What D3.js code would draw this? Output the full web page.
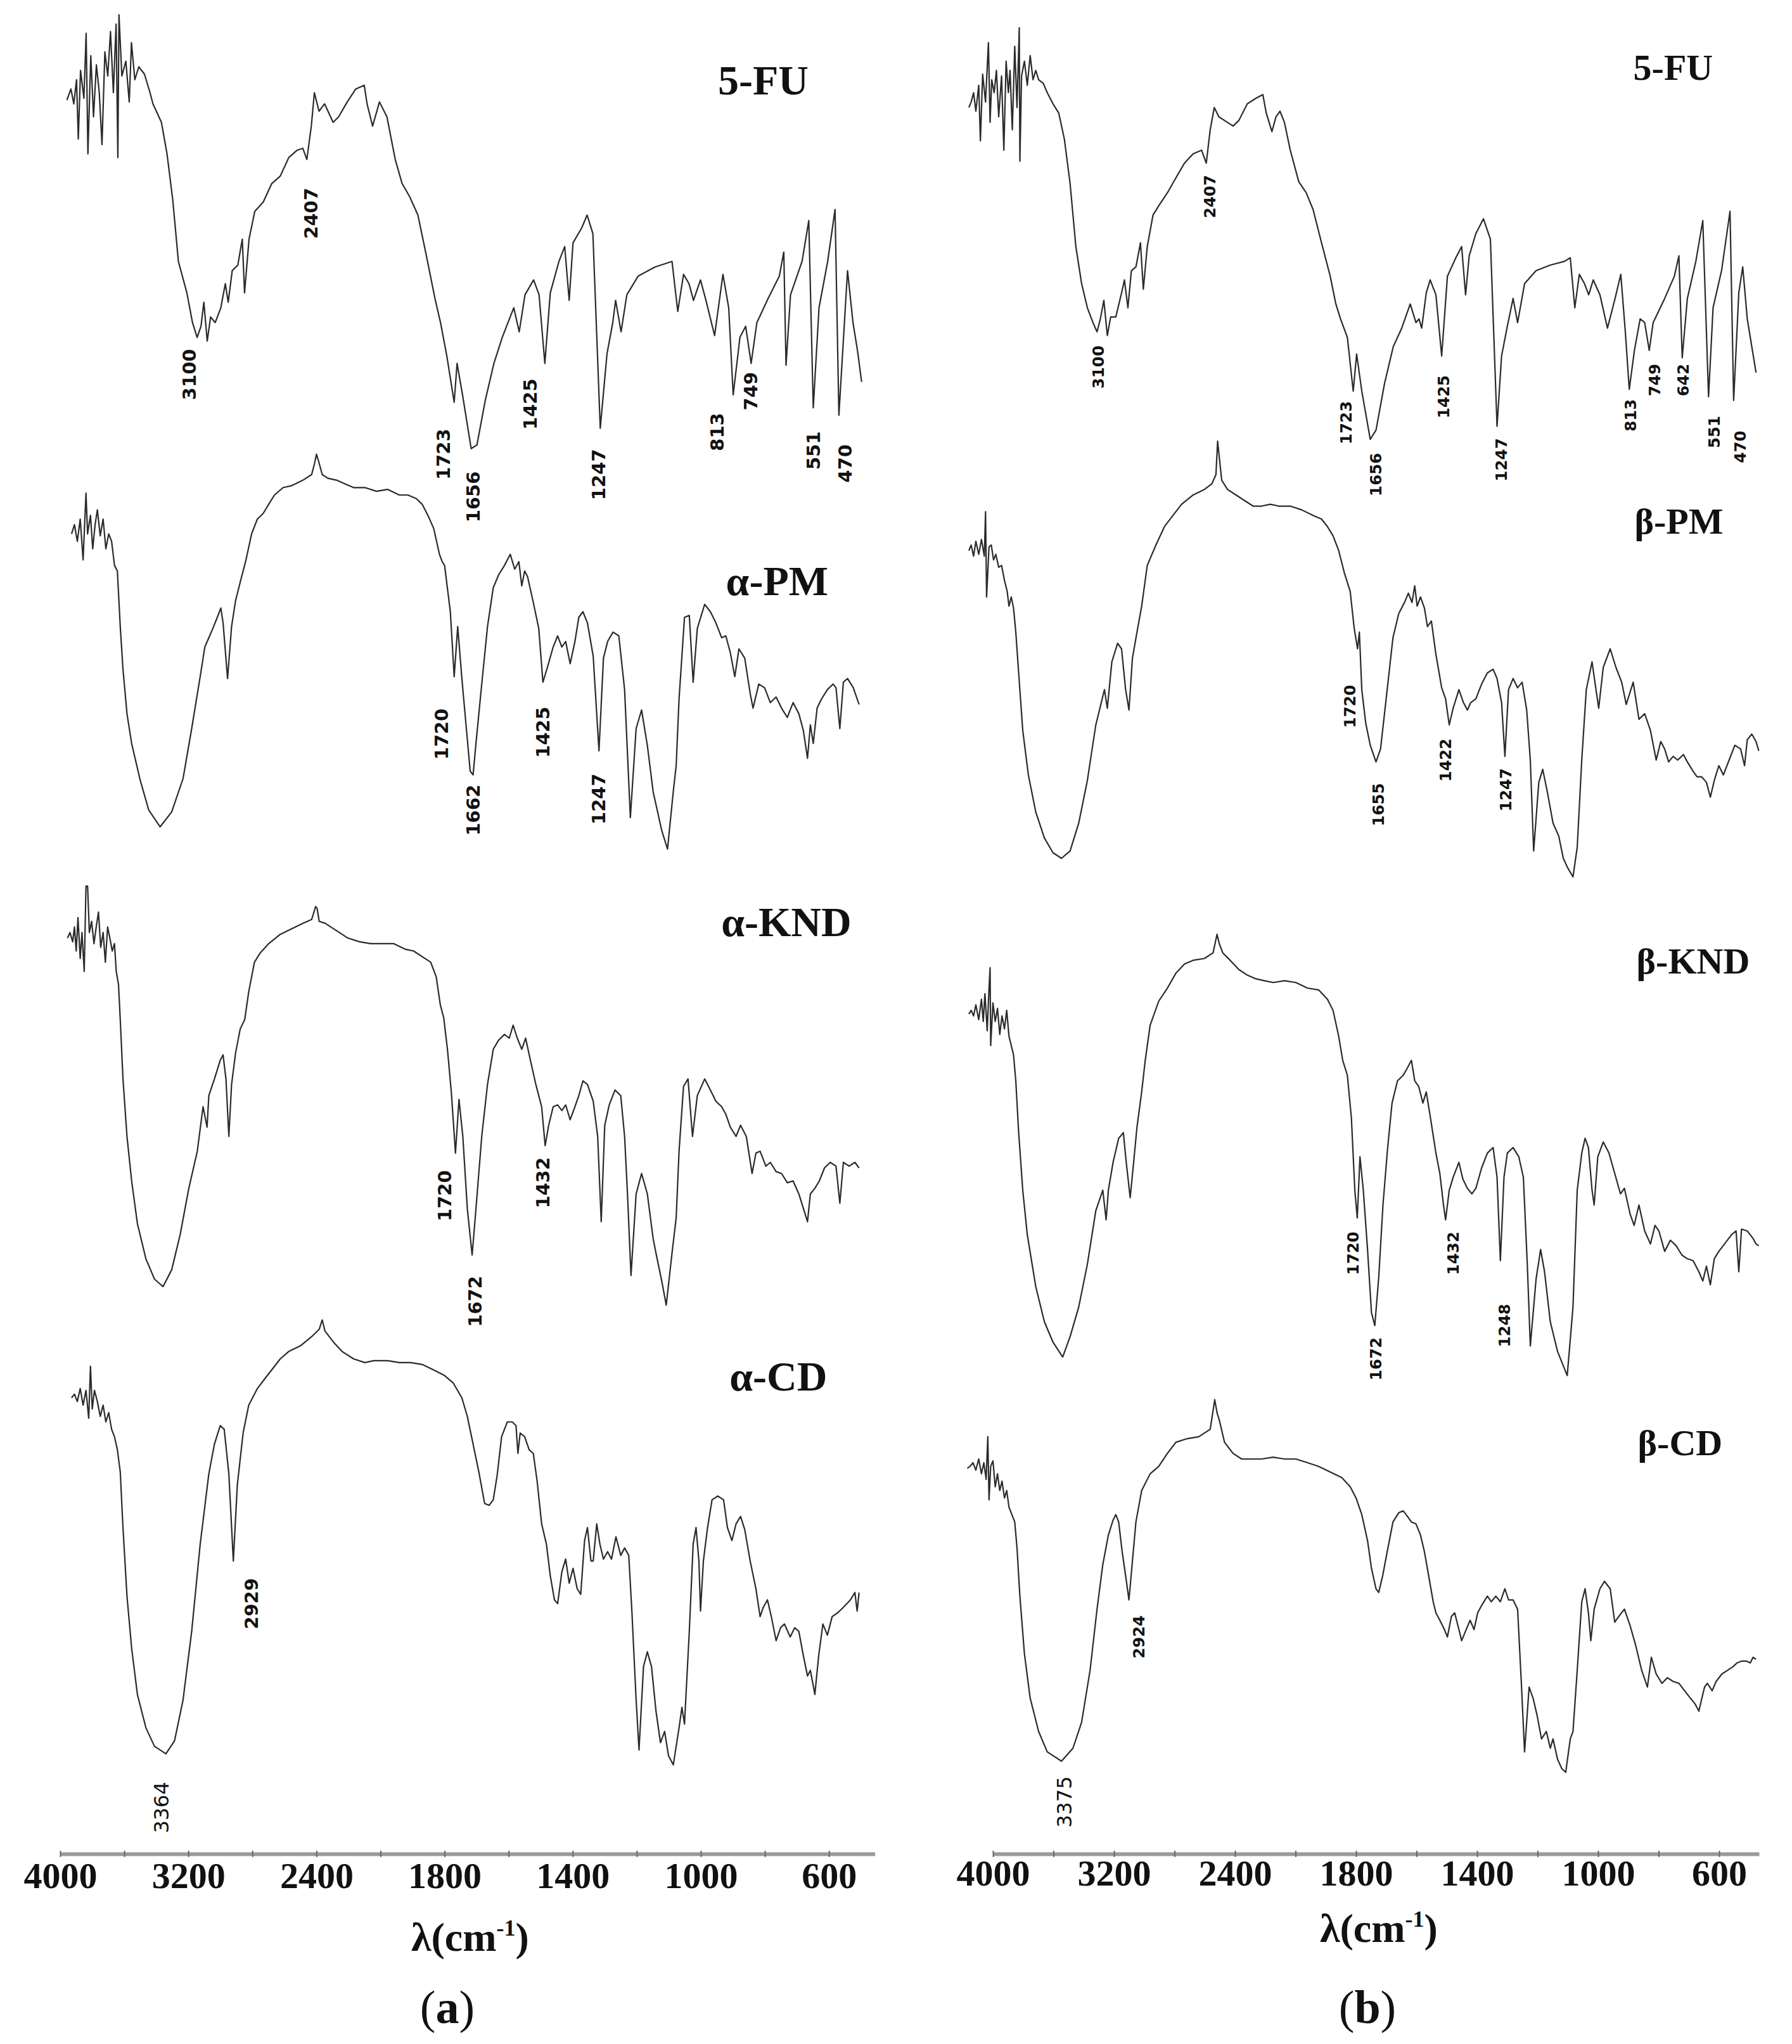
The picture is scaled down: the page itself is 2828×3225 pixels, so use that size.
<!DOCTYPE html>
<html>
<head>
<meta charset="utf-8">
<script src="https://cdn.jsdelivr.net/npm/d3@7"></script>
<style>
  body { margin: 0; background: #fff; }
  svg { display: block; }
</style>
</head>
<body>
<svg id="chart" width="2828" height="3225"></svg>
<script>
// tick labels of the wavenumber axis (equally spaced in the figure)
const majorTicks = [4000, 3200, 2400, 1800, 1400, 1000, 600];
const minorTicks = [3600, 2800, 2100, 1600, 1200, 800];

// [wavenumber, stacked transmittance (0-100, arbitrary)]
const fuA = [[3958,94.6],[3933,95.2],[3915,94.4],[3898,95.7],[3887,92.5],[3873,96.2],[3852,94.7],[3838,98.2],[3827,91.7],[3809,97.0],[3792,93.7],[3774,96.5],[3756,95.0],[3739,92.2],[3721,97.2],[3703,95.9],[3686,98.3],[3668,95.0],[3651,98.7],[3640,91.5],[3633,99.2],[3615,95.9],[3590,96.7],[3569,94.5],[3555,97.7],[3534,95.7],[3509,96.4],[3474,96.0],[3439,95.0],[3421,94.4],
  [3368,93.4],[3333,91.7],[3297,89.2],[3262,85.9],[3209,84.2],[3174,82.6],[3145,81.8],[3121,82.4],[3103,83.7],[3082,81.6],[3061,82.9],[3032,82.6],[2997,83.4],[2969,84.7],[2951,83.7],[2926,85.4],[2891,85.7],[2863,87.1],[2849,84.2],[2821,87.1],[2785,88.6],[2732,89.1],[2679,90.1],[2626,90.5],[2573,91.5],[2520,91.9],[2485,92.0],[2460,91.4],[2432,93.2],[2413,95.0],
  [2388,94.0],[2362,94.4],[2322,93.4],[2296,93.7],[2256,94.5],[2216,95.2],[2176,95.4],[2163,94.4],[2137,93.2],[2105,94.5],[2070,93.7],[2031,91.4],[1999,90.1],[1964,89.4],[1925,88.4],[1885,86.2],[1845,83.9],[1819,82.6],[1793,80.8],[1770,78.3],[1761,80.4],[1743,78.6],[1717,75.8],[1699,76.0],[1673,78.4],[1646,80.4],[1620,81.8],[1602,82.6],[1584,83.4],[1567,82.1],[1549,84.1],[1522,84.9],[1505,84.1],[1487,80.4],[1470,84.2],[1443,85.9],[1425,86.7],[1411,83.8],[1399,86.9],[1372,87.7],[1355,88.4],[1337,87.4],[1314,76.9],[1293,80.9],[1275,82.6],[1266,83.8],[1249,82.1],[1231,84.1],[1196,85.1],[1143,85.6],[1090,85.9],[1072,83.2],[1054,85.2],[1037,84.7],[1023,83.8],[1001,84.9],[984,83.8],[957,81.9],[931,85.2],[913,83.4],[899,78.7],[878,81.8],[860,82.4],[843,80.4],[825,82.6],[790,83.9],[755,85.1],[741,86.4],[734,80.3],[720,84.1],[684,85.9],[663,88.1],[649,78.0],[631,83.4],[604,85.9],[581,88.7],[569,77.6],[542,85.4],[525,82.6],[511,81.1],[498,79.4]];

const pmA = [[3929,71.2],[3911,71.7],[3893,70.8],[3875,72.0],[3857,69.8],[3839,73.4],[3829,71.2],[3811,72.2],[3797,70.4],[3782,71.7],[3768,72.5],[3750,71.1],[3732,72.0],[3715,70.4],[3697,71.2],[3679,70.8],[3661,69.5],[3643,69.2],[3625,66.2],[3608,63.9],[3583,61.5],[3554,59.9],[3500,57.9],[3447,56.3],[3376,55.4],[3304,56.2],[3233,58.0],[3179,60.7],[3126,63.5],[3097,65.1],[3072,65.6],[3047,66.1],[3019,66.7],[2997,67.2],[2983,66.4],[2955,63.4],[2930,66.2],[2905,67.6],[2876,68.6],[2840,69.8],[2805,71.2],[2769,72.0],[2733,72.3],[2698,72.8],[2662,73.3],[2608,73.7],[2555,73.8],[2484,74.1],[2430,74.4],[2412,75.0],[2400,75.5],[2387,75.0],[2373,74.4],[2346,74.2],[2306,74.1],[2266,73.9],[2226,73.7],[2173,73.7],[2119,73.5],[2066,73.6],[2012,73.3],[1972,73.3],[1932,73.1],[1905,72.8],[1878,72.2],[1851,71.5],[1824,70.1],[1811,69.7],[1800,69.5],[1782,67.0],[1770,63.5],[1759,66.2],[1746,63.4],[1732,60.7],[1720,58.4],[1711,58.2],[1702,59.9],[1684,63.1],[1666,66.2],[1648,68.3],[1631,69.0],[1613,69.5],[1595,70.1],[1581,69.3],[1568,69.7],[1559,68.4],[1550,69.2],[1541,68.9],[1523,67.5],[1506,66.1],[1493,63.2],[1479,64.0],[1461,65.1],[1447,65.7],[1434,65.1],[1422,65.4],[1408,64.2],[1393,65.4],[1381,66.7],[1368,67.0],[1354,66.4],[1336,64.6],[1318,59.5],[1304,64.5],[1291,65.4],[1274,65.9],[1256,65.7],[1238,62.8],[1220,55.9],[1202,60.7],[1185,61.7],[1167,59.8],[1149,57.3],[1140,56.6],[1122,55.2],[1104,54.2],[1086,57.3],[1077,58.7],[1068,62.3],[1051,66.7],[1036,66.8],[1024,63.2],[1011,66.1],[988,67.4],[970,67.0],[953,66.4],[935,65.6],[922,65.7],[908,64.8],[894,63.5],[881,65.0],[863,64.5],[846,62.6],[837,61.8],[819,63.1],[801,62.9],[783,62.1],[765,62.4],[748,61.8],[730,61.3],[712,62.1],[694,61.5],[680,60.6],[667,59.1],[658,60.9],[649,59.9],[637,61.8],[623,62.3],[605,62.8],[587,63.1],[578,62.9],[566,60.7],[555,63.2],[542,63.4],[524,62.9],[506,62.0]];

const kndA = [[3954,49.4],[3939,49.7],[3922,49.2],[3911,50.0],[3900,48.7],[3889,50.5],[3875,48.3],[3864,49.7],[3850,47.6],[3839,52.2],[3829,52.2],[3818,49.7],[3804,50.3],[3789,49.1],[3775,50.0],[3761,50.8],[3747,48.9],[3732,49.7],[3718,48.1],[3704,50.0],[3690,49.4],[3675,48.7],[3661,49.1],[3650,47.6],[3636,46.9],[3625,45.0],[3608,41.8],[3583,38.7],[3554,36.3],[3518,34.0],[3465,32.1],[3411,31.0],[3358,30.6],[3304,31.5],[3251,33.4],[3197,35.9],[3144,37.9],[3108,40.3],[3083,39.2],[3072,40.9],[3037,41.8],[3001,42.8],[2983,43.1],[2965,41.8],[2947,38.7],[2930,41.5],[2905,43.2],[2876,44.5],[2848,45.0],[2823,46.5],[2787,48.1],[2751,48.6],[2698,49.1],[2626,49.6],[2555,49.9],[2484,50.2],[2430,50.4],[2405,51.1],[2397,51.0],[2387,50.3],[2360,50.2],[2306,49.8],[2253,49.4],[2199,49.2],[2146,49.1],[2092,49.1],[2039,49.1],[1985,48.8],[1945,48.7],[1905,48.4],[1865,48.1],[1839,47.3],[1820,45.8],[1804,45.1],[1791,43.4],[1779,41.1],[1766,37.8],[1755,40.7],[1743,38.7],[1729,34.8],[1714,32.3],[1702,34.8],[1684,38.7],[1666,41.5],[1648,43.4],[1631,43.9],[1613,44.2],[1598,44.0],[1586,44.7],[1573,44.0],[1559,43.4],[1547,44.0],[1532,42.8],[1515,41.5],[1497,40.3],[1486,38.2],[1475,39.3],[1461,40.3],[1447,40.4],[1434,40.1],[1422,40.4],[1408,39.6],[1393,40.3],[1381,40.9],[1368,41.7],[1354,41.5],[1336,40.6],[1322,38.7],[1311,34.1],[1300,39.3],[1286,40.4],[1268,41.2],[1250,40.9],[1238,38.7],[1229,35.6],[1218,31.2],[1202,35.6],[1185,36.7],[1167,35.6],[1149,33.2],[1140,32.4],[1122,30.9],[1108,29.6],[1090,32.4],[1077,34.3],[1068,37.9],[1054,41.4],[1040,41.8],[1026,38.7],[1011,40.9],[988,41.8],[970,41.2],[953,40.6],[935,40.3],[922,39.9],[908,39.2],[890,38.7],[876,39.3],[858,38.7],[840,36.7],[828,37.8],[815,37.9],[797,37.1],[783,37.3],[765,36.8],[748,36.7],[730,36.2],[712,36.3],[694,35.6],[676,34.6],[667,34.1],[658,35.6],[644,35.9],[630,36.3],[614,37.0],[596,37.3],[578,37.1],[566,35.1],[555,37.3],[537,37.1],[519,37.3],[506,37.0]];

const cdA = [[3929,24.6],[3911,24.8],[3893,24.4],[3875,25.1],[3857,24.2],[3839,25.0],[3822,23.5],[3811,26.3],[3800,24.0],[3786,25.0],[3768,24.4],[3750,23.6],[3732,24.2],[3715,23.3],[3697,23.8],[3679,22.9],[3661,22.5],[3643,21.8],[3625,20.6],[3608,17.6],[3583,13.9],[3554,11.1],[3518,8.6],[3465,6.8],[3411,5.8],[3340,5.4],[3286,6.1],[3233,8.3],[3179,12.0],[3126,16.7],[3072,20.5],[3037,22.1],[3001,23.1],[2976,22.9],[2947,20.5],[2919,15.8],[2894,19.9],[2858,22.7],[2823,24.2],[2769,25.1],[2716,25.7],[2662,26.3],[2626,26.7],[2573,27.1],[2501,27.4],[2430,27.9],[2387,28.3],[2373,28.8],[2360,28.2],[2320,27.6],[2280,27.1],[2226,26.7],[2173,26.5],[2132,26.6],[2066,26.6],[2012,26.5],[1959,26.5],[1905,26.4],[1851,26.1],[1800,25.8],[1773,25.4],[1746,24.6],[1729,23.6],[1711,22.1],[1693,20.6],[1675,18.9],[1661,18.8],[1648,19.1],[1636,20.4],[1622,22.5],[1604,23.3],[1589,23.3],[1577,23.1],[1571,21.6],[1564,22.7],[1550,22.5],[1536,21.8],[1523,21.6],[1511,20.1],[1497,17.8],[1482,16.7],[1470,15.0],[1457,13.7],[1447,13.5],[1434,15.2],[1422,15.9],[1411,14.6],[1399,15.4],[1386,14.3],[1375,14.0],[1363,16.9],[1354,17.6],[1343,15.8],[1336,15.8],[1325,17.8],[1315,16.7],[1304,15.9],[1291,16.3],[1279,15.9],[1265,17.1],[1250,16.1],[1238,16.5],[1225,16.1],[1215,13.0],[1202,8.3],[1193,5.6],[1179,10.1],[1167,10.9],[1154,10.1],[1140,7.7],[1126,6.0],[1113,6.6],[1101,5.3],[1086,4.8],[1068,6.8],[1059,7.9],[1051,7.0],[1036,12.0],[1024,16.7],[1015,17.6],[1006,15.8],[1001,13.1],[992,15.8],[979,17.6],[965,19.1],[947,19.3],[929,19.1],[917,17.6],[903,16.9],[890,17.8],[876,18.2],[863,17.5],[846,15.8],[828,14.3],[815,12.8],[805,13.3],[792,13.7],[780,12.8],[765,11.5],[751,12.2],[739,12.4],[721,11.7],[707,12.2],[694,12.0],[680,10.7],[667,9.6],[658,9.9],[644,8.6],[632,10.7],[619,12.4],[605,11.8],[590,12.8],[573,13.0],[555,13.3],[533,13.7],[519,14.1],[512,13.1],[506,14.1]];

const fuB = [[4159,94.2],[4144,94.5],[4128,95.0],[4113,94.0],[4094,95.4],[4083,92.4],[4068,96.0],[4049,94.5],[4030,97.7],[4019,93.4],[4008,95.7],[3992,95.0],[3977,96.2],[3962,93.7],[3943,95.9],[3928,91.9],[3913,96.7],[3898,95.0],[3887,96.2],[3872,93.0],[3856,97.5],[3841,94.2],[3826,98.5],[3822,91.3],[3811,95.9],[3792,96.7],[3773,95.4],[3754,97.0],[3735,95.7],[3717,96.2],[3698,95.7],[3667,95.5],[3641,95.0],[3603,94.4],[3565,93.9],[3528,92.5],[3490,90.1],[3452,86.7],[3414,84.7],[3376,83.4],[3339,82.6],[3312,82.1],[3290,82.8],[3267,83.8],[3244,81.9],[3222,82.9],[3188,82.9],[3150,84.2],[3131,84.9],[3108,83.4],[3085,85.4],[3055,85.6],[3025,86.9],[3006,84.4],[2980,86.7],[2942,88.4],[2904,88.9],[2847,89.6],[2791,90.4],[2734,91.2],[2677,91.7],[2621,91.9],[2590,91.2],[2564,93.0],[2537,94.2],[2507,93.7],[2469,93.5],[2413,93.2],[2381,93.5],[2339,94.4],[2296,94.7],[2262,94.9],[2245,93.9],[2217,92.9],[2197,93.7],[2177,94.0],[2155,93.4],[2126,91.9],[2084,90.2],[2047,89.6],[2013,88.7],[1971,86.9],[1928,85.1],[1900,83.6],[1877,82.8],[1843,81.8],[1814,78.9],[1798,80.9],[1781,78.9],[1753,76.3],[1734,76.8],[1706,79.3],[1677,81.3],[1649,82.3],[1621,83.6],[1602,82.6],[1592,82.8],[1583,82.3],[1568,84.2],[1555,84.9],[1536,84.1],[1517,80.8],[1498,85.1],[1470,86.1],[1451,86.7],[1438,84.1],[1426,86.2],[1404,87.4],[1379,88.2],[1356,87.1],[1334,77.0],[1319,80.8],[1300,82.4],[1281,83.9],[1266,82.6],[1243,84.7],[1205,85.4],[1158,85.7],[1111,85.9],[1092,86.1],[1077,83.4],[1062,85.2],[1045,84.7],[1031,84.1],[1016,84.9],[994,84.1],[969,82.3],[944,83.9],[925,85.2],[910,82.1],[897,79.0],[880,81.1],[861,82.8],[846,82.6],[831,81.1],[818,82.6],[780,83.9],[748,85.1],[733,86.2],[722,80.7],[705,83.9],[677,85.9],[654,88.1],[635,78.6],[620,83.4],[592,85.4],[564,88.6],[552,78.4],[535,84.2],[522,85.6],[507,82.8],[492,81.3],[478,79.9]];

const pmB = [[4159,70.3],[4144,70.6],[4128,70.0],[4113,70.8],[4094,70.1],[4076,70.9],[4057,70.0],[4049,72.4],[4042,67.8],[4026,70.5],[4011,70.6],[3996,69.8],[3981,70.1],[3962,69.4],[3943,69.5],[3924,68.7],[3906,68.1],[3894,67.3],[3879,67.8],[3864,67.2],[3849,65.9],[3830,63.7],[3803,60.6],[3766,58.2],[3717,56.2],[3660,54.8],[3603,54.0],[3547,53.7],[3490,54.1],[3433,55.6],[3376,57.9],[3320,60.9],[3263,62.8],[3244,61.8],[3214,64.3],[3176,65.3],[3150,65.0],[3123,62.8],[3101,61.7],[3078,64.5],[3048,65.9],[3017,67.3],[2980,69.5],[2923,70.6],[2866,71.6],[2810,72.2],[2753,72.8],[2677,73.3],[2602,73.6],[2553,73.9],[2526,74.4],[2515,76.2],[2488,74.1],[2450,73.6],[2395,73.3],[2353,73.0],[2310,72.7],[2268,72.7],[2225,72.8],[2183,72.7],[2126,72.7],[2070,72.5],[2013,72.2],[1971,72.0],[1942,71.6],[1914,71.1],[1886,70.3],[1858,69.1],[1829,68.1],[1809,66.1],[1795,65.0],[1789,65.9],[1781,62.8],[1768,61.0],[1753,59.8],[1734,58.9],[1719,59.6],[1706,61.5],[1693,63.4],[1678,65.6],[1659,66.9],[1640,67.5],[1627,68.0],[1615,67.5],[1606,68.4],[1598,67.3],[1587,67.8],[1574,67.2],[1564,66.2],[1551,66.5],[1536,64.7],[1517,62.9],[1504,62.3],[1492,60.9],[1479,61.8],[1460,62.8],[1445,62.1],[1432,61.7],[1421,62.1],[1404,62.3],[1385,63.1],[1366,63.7],[1347,63.9],[1334,63.4],[1319,62.1],[1308,59.2],[1296,62.8],[1281,63.4],[1266,62.9],[1251,63.2],[1236,61.7],[1224,59.0],[1213,54.1],[1196,57.8],[1183,58.5],[1168,57.3],[1149,55.6],[1130,54.9],[1115,53.7],[1101,53.2],[1083,52.7],[1069,54.3],[1054,59.0],[1039,62.8],[1020,64.3],[1007,62.8],[998,61.8],[983,64.0],[960,65.0],[941,64.0],[922,63.2],[907,62.0],[884,63.2],[865,61.2],[846,61.5],[827,60.6],[808,59.0],[793,60.0],[780,59.6],[767,58.9],[752,59.2],[737,59.0],[718,59.3],[705,58.9],[686,58.4],[673,58.1],[658,58.1],[642,57.8],[629,57.0],[616,57.9],[601,58.7],[586,58.2],[567,59.0],[548,59.8],[529,59.6],[516,58.7],[507,60.1],[492,60.4],[478,60.0],[469,59.5]];

const kndB = [[4159,45.3],[4144,45.5],[4128,45.2],[4113,45.8],[4094,45.0],[4076,46.1],[4064,44.9],[4053,46.4],[4038,44.4],[4026,46.7],[4019,47.8],[4015,43.6],[4000,45.9],[3985,44.9],[3970,45.6],[3955,44.2],[3940,45.2],[3924,44.5],[3909,45.5],[3894,44.1],[3879,43.6],[3864,43.1],[3849,41.7],[3830,38.9],[3803,35.8],[3773,33.4],[3717,30.6],[3660,28.7],[3603,27.6],[3539,26.8],[3490,27.9],[3433,29.5],[3376,31.8],[3320,34.7],[3274,35.8],[3252,34.2],[3237,35.8],[3206,37.3],[3169,38.6],[3138,38.9],[3119,37.3],[3093,35.4],[3070,37.3],[3048,39.2],[3017,41.1],[2995,42.7],[2961,44.7],[2904,46.0],[2847,46.7],[2791,47.5],[2734,48.0],[2677,48.2],[2602,48.3],[2545,48.6],[2519,49.6],[2504,49.1],[2481,48.6],[2432,48.2],[2381,47.7],[2339,47.4],[2296,47.2],[2254,47.1],[2211,47.0],[2155,47.1],[2098,47.0],[2041,46.7],[1985,46.6],[1942,46.1],[1914,45.5],[1886,44.1],[1866,42.8],[1843,42.0],[1823,39.7],[1806,35.8],[1796,34.3],[1787,37.6],[1776,35.8],[1762,32.6],[1749,29.2],[1738,28.5],[1725,31.1],[1711,35.0],[1696,38.0],[1681,40.5],[1663,41.7],[1644,42.0],[1630,42.4],[1617,42.8],[1606,41.7],[1593,41.4],[1579,40.5],[1568,41.1],[1555,39.8],[1536,37.8],[1523,36.7],[1511,35.0],[1504,34.2],[1492,35.8],[1479,36.5],[1460,37.3],[1447,36.4],[1432,35.9],[1417,35.6],[1404,35.9],[1385,37.0],[1366,37.8],[1347,38.1],[1334,36.5],[1323,32.0],[1311,36.5],[1300,37.8],[1281,38.1],[1262,37.6],[1247,36.5],[1234,31.8],[1224,27.4],[1205,31.0],[1190,32.6],[1177,31.4],[1158,28.7],[1134,27.1],[1102,25.8],[1083,29.5],[1069,35.8],[1054,37.8],[1043,38.6],[1032,38.1],[1020,35.8],[1013,35.0],[1001,37.6],[983,38.4],[964,37.8],[945,36.7],[926,35.6],[913,35.9],[894,34.5],[881,33.9],[865,35.0],[846,33.6],[827,32.9],[812,33.9],[799,33.6],[780,32.5],[761,33.1],[742,32.8],[723,32.3],[705,32.1],[686,32.0],[667,31.4],[654,30.9],[642,31.7],[629,30.7],[616,32.1],[601,32.5],[582,32.9],[559,33.4],[544,33.6],[535,31.4],[526,33.7],[507,33.6],[488,33.2],[478,32.9],[469,32.8]];

const cdB = [[4170,20.8],[4151,20.9],[4132,21.1],[4113,20.7],[4094,21.3],[4076,20.5],[4060,21.1],[4045,20.2],[4034,22.5],[4026,19.1],[4015,20.9],[4000,21.2],[3985,19.8],[3970,20.5],[3955,19.6],[3940,20.1],[3924,19.2],[3909,19.6],[3894,18.7],[3875,18.3],[3856,17.9],[3841,16.5],[3822,13.9],[3792,10.8],[3754,8.4],[3698,6.6],[3641,5.5],[3547,5.0],[3471,5.7],[3414,7.1],[3358,9.9],[3312,13.2],[3274,15.6],[3237,17.2],[3206,18.0],[3188,18.3],[3169,17.9],[3146,16.3],[3123,15.0],[3101,13.7],[3078,15.8],[3055,17.9],[3017,19.6],[2961,20.5],[2904,20.9],[2847,21.6],[2791,22.2],[2715,22.4],[2640,22.5],[2564,22.9],[2534,24.5],[2519,23.8],[2504,23.4],[2469,22.2],[2413,21.6],[2367,21.3],[2325,21.3],[2268,21.3],[2211,21.4],[2155,21.3],[2098,21.3],[2041,21.1],[1985,20.9],[1928,20.6],[1871,20.3],[1829,19.8],[1800,19.2],[1781,18.3],[1762,16.9],[1749,15.4],[1734,14.3],[1725,14.1],[1712,15.0],[1697,16.3],[1678,17.9],[1659,18.4],[1644,18.5],[1630,18.2],[1617,17.9],[1602,17.8],[1587,17.2],[1574,16.3],[1560,15.0],[1545,13.6],[1536,13.0],[1523,12.6],[1508,12.1],[1498,11.7],[1485,12.8],[1474,13.0],[1460,12.1],[1451,11.5],[1436,12.1],[1423,12.6],[1410,12.1],[1398,13.0],[1385,13.4],[1366,13.9],[1353,13.6],[1338,13.9],[1323,13.6],[1308,14.3],[1296,13.7],[1281,13.7],[1266,13.2],[1253,9.0],[1243,5.5],[1228,9.0],[1215,8.4],[1202,7.5],[1187,6.2],[1171,6.6],[1158,5.7],[1149,6.2],[1134,5.1],[1120,4.6],[1107,4.4],[1092,6.2],[1083,6.6],[1069,9.9],[1054,13.6],[1043,14.3],[1032,13.0],[1024,11.5],[1013,13.2],[994,14.3],[979,14.7],[960,14.3],[945,12.5],[932,12.8],[913,13.2],[894,12.3],[875,11.2],[856,9.9],[837,9.0],[824,10.6],[808,9.7],[789,9.2],[771,9.5],[752,9.3],[733,9.2],[714,8.8],[695,8.4],[680,8.1],[667,7.7],[657,8.4],[648,9.0],[639,9.2],[623,8.8],[610,9.3],[591,9.7],[572,9.9],[554,10.1],[541,10.3],[525,10.4],[510,10.4],[497,10.3],[488,10.6],[478,10.5]];

// peak annotations: [text, wavenumber of the label, height of the label centre]
const fuAPeaks = [["3100",3192,79.8],["2407",2434,88.5],["1723",1806,75.5],["1656",1711,73.2],["1425",1532,78.2],["1247",1318,74.4],["813",949,76.7],["749",843,78.9],["551",648,75.7],["470",548,75.0]];
const pmAPeaks = [["1720",1813,60.4],["1662",1711,56.3],["1425",1493,60.5],["1247",1318,56.9]];
const kndAPeaks = [["1720",1800,35.5],["1672",1705,29.8],["1432",1493,36.2]];
const cdAPeaks = [["2929",2805,13.5],["3364",3368,2.5]];
const fuBPeaks = [["3100",3301,80.2],["2407",2564,89.4],["1723",1848,77.2],["1656",1734,74.4],["1425",1509,78.6],["1247",1320,75.2],["813",893,77.6],["749",812,79.5],["642",718,79.5],["551",616,76.7],["470",529,75.9]];
const pmBPeaks = [["1720",1829,61.9],["1655",1725,56.6],["1422",1504,59.0],["1247",1304,57.4]];
const kndBPeaks = [["1720",1814,32.4],["1672",1734,26.7],["1432",1479,32.4],["1248",1309,28.5]];
const cdBPeaks = [["2924",3036,11.7],["3375",3528,2.8]];

// sample names: [name, wavenumber of centre, baseline height]
const namesA = [["5-FU",805,94.9],["α-PM",762,67.9],["α-KND",733,49.5],["α-CD",758,25.0]];
const namesB = [["5-FU",752,95.7],["β-PM",733,71.2],["β-KND",686,47.5],["β-CD",729,21.5]];

const svg = d3.select("#chart");
svg.append("rect").attr("width", 2828).attr("height", 3225).attr("fill", "#fff");

const axisY = 2925;
const y = d3.scaleLinear().domain([0, 100]).range([axisY, 0]);

const panels = [
  { x0: 95, step: 202.2, end: 457, letter: "a", letterX: 706, titleX: 742, titleY: 3078, tickPad: 8,
    spectra: [fuA, pmA, kndA, cdA], peaks: [fuAPeaks, pmAPeaks, kndAPeaks, cdAPeaks],
    names: namesA, nameSize: 66, peakSize: 29 },
  { x0: 1567, step: 191, end: 468, letter: "b", letterX: 2158, titleX: 2176, titleY: 3064, tickPad: 4,
    spectra: [fuB, pmB, kndB, cdB], peaks: [fuBPeaks, pmBPeaks, kndBPeaks, cdBPeaks],
    names: namesB, nameSize: 58, peakSize: 24.5 }
];

panels.forEach(p => {
  // piecewise-linear wavenumber axis, as in the original figure
  const domain = majorTicks.concat([p.end]);
  const range = majorTicks.map((d, i) => p.x0 + i * p.step)
    .concat([p.x0 + 6 * p.step + (600 - p.end) / 400 * p.step]);
  const x = d3.scaleLinear().domain(domain).range(range);

  const g = svg.append("g");

  const line = d3.line().x(d => x(d[0])).y(d => y(d[1]));
  g.selectAll(".spec")
    .data(p.spectra)
    .enter().append("path")
    .attr("class", "spec")
    .attr("d", line)
    .attr("fill", "none")
    .attr("stroke", "#2b2b2b")
    .attr("stroke-width", 2.2)
    .attr("stroke-linejoin", "round");

  // rotated peak labels
  p.peaks.forEach(list => {
    g.selectAll(null)
      .data(list)
      .enter().append("text")
      .attr("transform", d => `translate(${x(d[1])},${y(d[2])}) rotate(-90)`)
      .attr("text-anchor", "middle")
      .attr("dominant-baseline", "central")
      .style("font-family", "'DejaVu Sans', Verdana, sans-serif")
      .style("font-weight", d => (d[0] === "3364" || d[0] === "3375") ? "normal" : "bold")
      .style("font-size", d => (d[0] === "3364" || d[0] === "3375") ? "32px" : p.peakSize + "px")
      .attr("fill", "#111")
      .text(d => d[0]);
  });

  // sample names
  g.selectAll(".name")
    .data(p.names)
    .enter().append("text")
    .attr("class", "name")
    .attr("x", d => x(d[1]))
    .attr("y", d => y(d[2]))
    .attr("text-anchor", "middle")
    .style("font-family", "'Liberation Serif', 'Times New Roman', serif")
    .style("font-weight", "bold")
    .style("font-size", p.nameSize + "px")
    .attr("fill", "#111")
    .text(d => d[0]);

  // axis
  const ax = g.append("g").attr("transform", `translate(0,${axisY})`);
  ax.call(d3.axisBottom(x).tickValues(majorTicks).tickFormat(d3.format("d"))
    .tickSize(5).tickSizeOuter(0).tickPadding(p.tickPad));
  ax.select(".domain").attr("stroke", "#9a9a9a").attr("stroke-width", 6);
  ax.selectAll(".tick line").attr("stroke", "#666").attr("stroke-width", 2).attr("y1", -5);
  ax.selectAll(".tick text")
    .style("font-family", "'Liberation Serif', 'Times New Roman', serif")
    .style("font-weight", "bold")
    .style("font-size", "58px")
    .attr("fill", "#111");

  const minor = g.append("g").attr("transform", `translate(0,${axisY})`);
  minor.call(d3.axisBottom(x).tickValues(minorTicks).tickSize(5).tickFormat(""));
  minor.select(".domain").remove();
  minor.selectAll(".tick line").attr("stroke", "#666").attr("stroke-width", 2).attr("y1", -5);

  // axis title
  const title = g.append("text")
    .attr("x", p.titleX)
    .attr("y", p.titleY)
    .attr("text-anchor", "middle")
    .style("font-family", "'Liberation Serif', 'Times New Roman', serif")
    .style("font-weight", "bold")
    .style("font-size", "64px")
    .attr("fill", "#111");
  title.append("tspan").text("λ(cm");
  title.append("tspan").attr("dy", -24).style("font-size", "36px").text("-1");
  title.append("tspan").attr("dy", 24).text(")");

  // panel letter
  const letter = g.append("text")
    .attr("x", p.letterX)
    .attr("y", 3192)
    .attr("text-anchor", "middle")
    .style("font-family", "'Liberation Serif', 'Times New Roman', serif")
    .style("font-size", "74px")
    .attr("fill", "#111");
  letter.append("tspan").text("(");
  letter.append("tspan").style("font-weight", "bold").text(p.letter);
  letter.append("tspan").text(")");
});
</script>
</body>
</html>
